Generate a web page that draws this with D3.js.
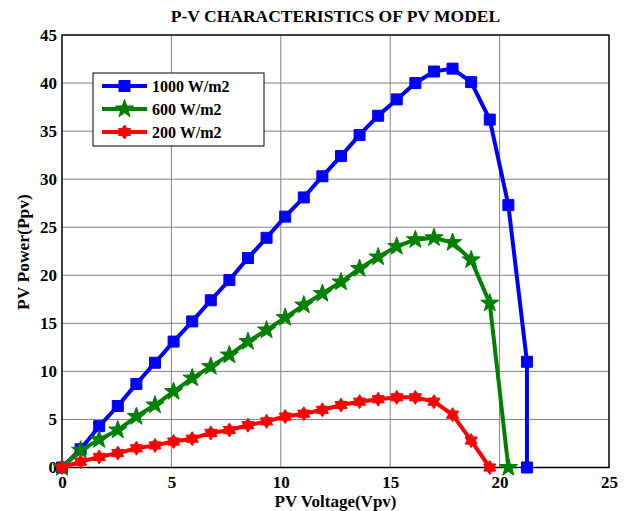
<!DOCTYPE html>
<html><head><meta charset="utf-8">
<script src="https://cdn.jsdelivr.net/npm/d3@7"></script>
<style>body{margin:0;background:#fff}svg{display:block}text{font-family:"Liberation Serif","Times New Roman",serif;font-weight:bold;fill:#000}</style>
</head><body><svg id="c" width="630" height="511"></svg>
<script>
const xTicks = [0,5,10,15,20,25];
const yTicks = [0,5,10,15,20,25,30,35,40,45];
const seriesNames = ["1000 W/m2","600 W/m2","200 W/m2"];
const v1000 = [0,0.85,1.7,2.55,3.4,4.25,5.1,5.95,6.8,7.65,8.5,9.35,10.2,11.05,11.9,12.75,13.6,14.45,15.3,16.15,17,17.85,18.7,19.55,20.4,21.25,21.25];
const p1000 = [0,1.9,4.3,6.4,8.7,10.9,13.1,15.2,17.4,19.5,21.8,23.9,26.1,28.1,30.3,32.4,34.6,36.6,38.3,40.0,41.2,41.5,40.1,36.2,27.3,11.0,0];
const v600 = [0,0.85,1.7,2.55,3.4,4.25,5.1,5.95,6.8,7.65,8.5,9.35,10.2,11.05,11.9,12.75,13.6,14.45,15.3,16.15,17,17.85,18.7,19.55,20.4];
const p600 = [0,1.8,2.9,3.9,5.3,6.5,7.9,9.3,10.5,11.7,13.1,14.3,15.6,16.9,18.1,19.3,20.7,21.9,23.0,23.7,23.9,23.4,21.6,17.1,0];
const v200 = [0,0.85,1.7,2.55,3.4,4.25,5.1,5.95,6.8,7.65,8.5,9.35,10.2,11.05,11.9,12.75,13.6,14.45,15.3,16.15,17,17.85,18.7,19.55];
const p200 = [0,0.6,1.1,1.5,2.0,2.3,2.7,3.0,3.6,3.9,4.4,4.8,5.3,5.6,6.0,6.5,6.85,7.1,7.3,7.3,6.85,5.5,2.8,0];

const L=62, R=609, T=35, B=467.5;
const svg = d3.select("#c");
const x = d3.scaleLinear().domain([0,25]).range([L,R]);
const y = d3.scaleLinear().domain([0,45]).range([B,T]);

// grid
svg.append("g").selectAll("line").data(xTicks.slice(1,-1)).join("line")
  .attr("x1",d=>x(d)).attr("x2",d=>x(d)).attr("y1",T).attr("y2",B)
  .attr("stroke","#808080").attr("stroke-width",1);
svg.append("g").selectAll("line").data(yTicks.slice(1,-1)).join("line")
  .attr("y1",d=>y(d)).attr("y2",d=>y(d)).attr("x1",L).attr("x2",R)
  .attr("stroke","#808080").attr("stroke-width",1);

// axes
const xa = svg.append("g").attr("transform",`translate(0,${B})`)
  .call(d3.axisBottom(x).tickValues(xTicks).tickSize(0).tickPadding(8).tickFormat(d3.format("d")));
const ya = svg.append("g").attr("transform",`translate(${L},0)`)
  .call(d3.axisLeft(y).tickValues(yTicks).tickSize(0).tickPadding(5).tickFormat(d3.format("d")));
[xa,ya].forEach(a=>{a.select(".domain").remove();a.selectAll("text").style("font-size","17px").style("font-family","Liberation Serif").style("font-weight","bold").attr("fill","#000");});
svg.append("rect").attr("x",L).attr("y",T).attr("width",R-L).attr("height",B-T)
  .attr("fill","none").attr("stroke","#000").attr("stroke-width",1.5);

function star(n, ro, ri){
  const pts=[];
  for(let i=0;i<2*n;i++){const r=i%2?ri:ro;const a=-Math.PI/2+i*Math.PI/n;pts.push([r*Math.cos(a),r*Math.sin(a)]);}
  return "M"+pts.map(p=>p[0].toFixed(2)+","+p[1].toFixed(2)).join("L")+"Z";
}
const markers = {
  square: "M-5.5,-5.5H5.5V5.5H-5.5Z",
  penta: star(5,9.5,3.8),
  hexa: star(6,7,4.2)
};
const series = [
  {v:v1000,p:p1000,color:"#0000ff",m:"square"},
  {v:v600,p:p600,color:"#008000",m:"penta"},
  {v:v200,p:p200,color:"#ff0000",m:"hexa"}
];
const line = d3.line().x(d=>x(d[0])).y(d=>y(d[1]));
series.forEach(s=>{
  const pts = s.v.map((v,i)=>[v,s.p[i]]);
  const g = svg.append("g");
  g.append("path").attr("d",line(pts)).attr("fill","none").attr("stroke",s.color).attr("stroke-width",4).attr("stroke-linejoin","round");
  g.selectAll("path.m").data(pts).join("path").attr("class","m")
    .attr("transform",d=>`translate(${x(d[0])},${y(d[1])})`)
    .attr("d",markers[s.m]).attr("fill",s.color).attr("stroke",s.color).attr("stroke-width",1);
});

// legend
const lg = svg.append("g");
lg.append("rect").attr("x",93).attr("y",73).attr("width",171).attr("height",73)
  .attr("fill","#fff").attr("stroke","#000").attr("stroke-width",1);
const rowsY=[86,109,132];
series.forEach((s,i)=>{
  lg.append("line").attr("x1",102).attr("x2",147).attr("y1",rowsY[i]).attr("y2",rowsY[i]).attr("stroke",s.color).attr("stroke-width",4);
  lg.append("path").attr("transform",`translate(124.5,${rowsY[i]})`).attr("d",markers[s.m]).attr("fill",s.color).attr("stroke",s.color);
  lg.append("text").attr("x",152).attr("y",rowsY[i]+5.5).style("font-size","16px").text(seriesNames[i]);
});

svg.append("text").attr("x",(L+R)/2).attr("y",22).attr("text-anchor","middle").style("font-size","17.5px").text("P-V CHARACTERISTICS OF PV MODEL");
svg.append("text").attr("x",(L+R)/2).attr("y",507).attr("text-anchor","middle").style("font-size","17px").text("PV Voltage(Vpv)");
svg.append("text").attr("transform","translate(29,252) rotate(-90)").attr("text-anchor","middle").style("font-size","17.5px").text("PV Power(Ppv)");
</script></body></html>
